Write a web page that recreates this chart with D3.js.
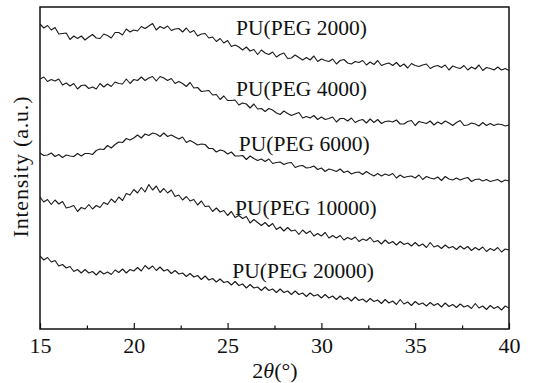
<!DOCTYPE html>
<html>
<head>
<meta charset="utf-8">
<script src="https://cdn.jsdelivr.net/npm/d3@7"></script>
<style>
  body { margin: 0; background: #fff; }
  svg { display: block; }
</style>
</head>
<body>
<svg id="chart" width="535" height="383"></svg>
<script>
// 2theta scan positions (deg)
const twoTheta = [15,15.2,15.4,15.6,15.8,16,16.2,16.4,16.6,16.8,17,17.2,17.4,17.6,17.8,18,18.2,18.4,18.6,18.8,
  19,19.2,19.4,19.6,19.8,20,20.2,20.4,20.6,20.8,21,21.2,21.4,21.6,21.8,22,22.2,22.4,22.6,22.8,
  23,23.2,23.4,23.6,23.8,24,24.2,24.4,24.6,24.8,25,25.2,25.4,25.6,25.8,26,26.2,26.4,26.6,26.8,
  27,27.2,27.4,27.6,27.8,28,28.2,28.4,28.6,28.8,29,29.2,29.4,29.6,29.8,30,30.2,30.4,30.6,30.8,
  31,31.2,31.4,31.6,31.8,32,32.2,32.4,32.6,32.8,33,33.2,33.4,33.6,33.8,34,34.2,34.4,34.6,34.8,
  35,35.2,35.4,35.6,35.8,36,36.2,36.4,36.6,36.8,37,37.2,37.4,37.6,37.8,38,38.2,38.4,38.6,38.8,
  39,39.2,39.4,39.6,39.8,40];

// stacked intensities (a.u., offset per sample)
const peg2000 = [305,301,303.5,299,301.5,295,295.5,296,289.5,293,290.5,293,289,292,294.5,291,290.5,295,293.5,291,
  296.5,296.5,294,300,297,299,298,302.5,300.5,303,305.5,299,302.5,300.5,303,298.5,300,300.5,297,301,
  296.5,298.5,293,295,295.5,291,292,287.5,290.5,286,288.5,282.5,284,282,279,282,278,279.5,274.5,279,
  276,274.5,277,272,274.5,276,270.5,271,274,271.5,269,271.5,269,273,267.5,270,268.5,267.5,270,265,
  268.5,269.5,266,265,267.5,266.5,268.5,264,267,264.5,268.5,263.5,265,266,263.5,266.5,262.5,265,261,265.5,
  263.5,262.5,264,265,260.5,262.5,263.5,261.5,264,259,263,261.5,260.5,263.5,259,262,260,264,258.5,261.5,
  260.5,259,262,259,260.5,258.5];
const peg4000 = [250,252,247.5,249.5,248,250,244,246,243,245.5,240,243.5,244,240.5,242,240,245.5,242,245,242.5,
  247,245.5,245,250,245.5,249.5,248.5,252,248.5,251,252.5,248,252.5,251,248.5,250.5,245.5,247.5,245.5,242.5,
  246.5,241,241.5,237.5,238,238.5,234,234.5,229.5,233,228.5,228.5,229,224,226,225,221,225,220,220.5,
  217.5,220.5,219,216,214.5,218,215.5,213.5,215,216.5,211,212.5,211,213.5,209.5,212,209.5,210.5,212,207,
  210.5,210.5,208,211,206.5,208.5,209.5,206,210,206.5,209.5,205.5,207.5,208,207,209,205,205,207.5,208.5,
  203.5,207.5,206.5,205.5,208,204,207,205,208,206,203.5,206.5,208.5,203.5,204,206,205,203,206.5,203.5,
  205.5,203.5,205,204.5,203,204];
const peg6000 = [176,173.5,174,176,172.5,174.5,171.5,174,173,172.5,175.5,173,175.5,175.5,174.5,178.5,180,179.5,183.5,181,
  184.5,187,186.5,190.5,189,191,194,191,195,193.5,196,195,192.5,196,192.5,194,192,190,192,186.5,
  188.5,186.5,184,185,184.5,180.5,180.5,177,179,178,175,177,173,173,173.5,169.5,173,170.5,168.5,170,
  167.5,170,165.5,166.5,167,164.5,166,166.5,161.5,163,163.5,161,161.5,163,159.5,161,157.5,160,159,157.5,
  160,156.5,158,155,156.5,157,154.5,157.5,155,153,155.5,153,155,153.5,155.5,151,154,151.5,152.5,153,
  151,154,149.5,152.5,151,150,152,148.5,152.5,150,149,151,149,150.5,151.5,147.5,149.5,150,148,149.5,
  147.5,148.5,149.5,147,149,148];
const peg10000 = [132,127,129.5,124.5,129,125,127.5,121,122,123.5,117.5,121.5,120,124.5,120,123.5,121.5,126.5,124.5,130,
  126.5,132,128.5,135.5,134,139.5,136,141.5,137,144.5,139,143,136.5,140.5,136,139,132.5,134,129,132.5,
  128,129.5,124,128,122.5,123,117.5,121,117,118.5,113.5,117.5,111.5,113.5,110.5,112.5,106,109.5,106.5,103.5,
  106.5,102.5,105.5,99.5,102,98,101.5,98,99,94.5,99,95.5,98,93,95.5,93,96.5,91,93.5,91,
  93.5,89,91.5,89.5,92,87.5,90,88.5,91.5,87,88.5,85,89,85.5,87.5,84,87.5,84.5,86,83,
  86.5,83,85,81.5,86.5,82,83.5,80.5,84,81,82.5,79.5,83,80,82.5,78.5,81.5,79,82,77.5,
  80.5,78.5,81.5,77,80,79];
const peg20000 = [73,69,71.5,67,68.5,63,64.5,61,62.5,57.5,59.5,56,59.5,56,57.5,54,58,55,57,54.5,
  59,56.5,60,56,59.5,58,61.5,58,63.5,60,63,58.5,62,58,59.5,55.5,58.5,55,56,52.5,
  55.5,52,53.5,49.5,53,49,50.5,47,50,46.5,47.5,44,47.5,43.5,45,41,44.5,41,42,38.5,
  42,38.5,40,36.5,40,36.5,38,34.5,38,34.5,36,32.5,36,33,34.5,31,34.5,31,33,29.5,
  33,29.5,31.5,28,32,28.5,30,27,30.5,27.5,29,25.5,29.5,26,28,24.5,29.5,25,27,23.5,
  27.5,24.5,26,23,26.5,23.5,25.5,22,26,22.5,24.5,21.5,25,22,23.5,20.5,25.5,21,23,19.5,
  23.5,20.5,22.5,19,23,21];

const sampleNames = ["PU(PEG 2000)", "PU(PEG 4000)", "PU(PEG 6000)", "PU(PEG 10000)", "PU(PEG 20000)"];
const majorTicks = [15, 20, 25, 30, 35, 40];
const minorTicks = [17.5, 22.5, 27.5, 32.5, 37.5];

// where each sample name sits, in data units (2theta, intensity)
const labelAt = [[25.45, 294], [25.45, 233], [25.6, 178], [25.4, 114], [25.25, 51]];

const serif = "'Liberation Serif', 'DejaVu Serif', 'Times New Roman', serif";

const margin = {top: 7, right: 26, bottom: 54, left: 40};
const width = 535 - margin.left - margin.right;
const height = 383 - margin.top - margin.bottom;

const svg = d3.select("#chart");
const g = svg.append("g")
  .attr("transform", "translate(" + margin.left + "," + margin.top + ")");

const x = d3.scaleLinear().domain([15, 40]).range([0, width]);
const y = d3.scaleLinear().domain([0, 322]).range([height, 0]);

const series = [peg2000, peg4000, peg6000, peg10000, peg20000];

const line = d3.line()
  .x((d, i) => x(twoTheta[i]))
  .y(d => y(d));

g.append("defs").append("clipPath").attr("id", "plotClip")
  .append("rect").attr("width", width).attr("height", height);

g.append("g").attr("clip-path", "url(#plotClip)")
  .selectAll("path")
  .data(series)
  .enter().append("path")
  .attr("d", line)
  .attr("fill", "none")
  .attr("stroke", "#1a1a1a")
  .attr("stroke-width", 1.1)
  .attr("stroke-linejoin", "round");

g.selectAll(".sample-label")
  .data(sampleNames)
  .enter().append("text")
  .attr("class", "sample-label")
  .attr("x", (d, i) => x(labelAt[i][0]))
  .attr("y", (d, i) => y(labelAt[i][1]))
  .attr("font-family", serif)
  .attr("font-size", 21.5)
  .attr("fill", "#111")
  .text(d => d);

// bottom axis, ticks pointing inward
const xAxis = g.append("g")
  .attr("transform", "translate(0," + height + ")")
  .call(d3.axisBottom(x).tickValues(majorTicks).tickSizeInner(-6).tickSizeOuter(0).tickPadding(8));
xAxis.attr("font-family", serif).attr("font-size", 22);
xAxis.select(".domain").remove();
xAxis.selectAll("line").attr("stroke", "#111").attr("stroke-width", 1.2);
xAxis.selectAll("text").attr("fill", "#111");

const xMinor = g.append("g")
  .attr("transform", "translate(0," + height + ")")
  .call(d3.axisBottom(x).tickValues(minorTicks).tickSizeInner(-3.5).tickSizeOuter(0).tickFormat(""));
xMinor.select(".domain").remove();
xMinor.selectAll("line").attr("stroke", "#111").attr("stroke-width", 1.2);

g.append("rect")
  .attr("width", width)
  .attr("height", height)
  .attr("fill", "none")
  .attr("stroke", "#111")
  .attr("stroke-width", 1.5);

const xTitle = g.append("text")
  .attr("x", 235)
  .attr("y", height + 49)
  .attr("text-anchor", "middle")
  .attr("font-family", serif)
  .attr("font-size", 22)
  .attr("fill", "#111");
xTitle.append("tspan").text("2");
xTitle.append("tspan").attr("font-style", "italic").text("θ");
xTitle.append("tspan").text("(°)");

svg.append("text")
  .attr("transform", "translate(28,167) rotate(-90)")
  .attr("text-anchor", "middle")
  .attr("textLength", 141)
  .attr("lengthAdjust", "spacing")
  .attr("font-family", serif)
  .attr("font-size", 22)
  .attr("fill", "#111")
  .text("Intensity (a.u.)");
</script>
</body>
</html>
